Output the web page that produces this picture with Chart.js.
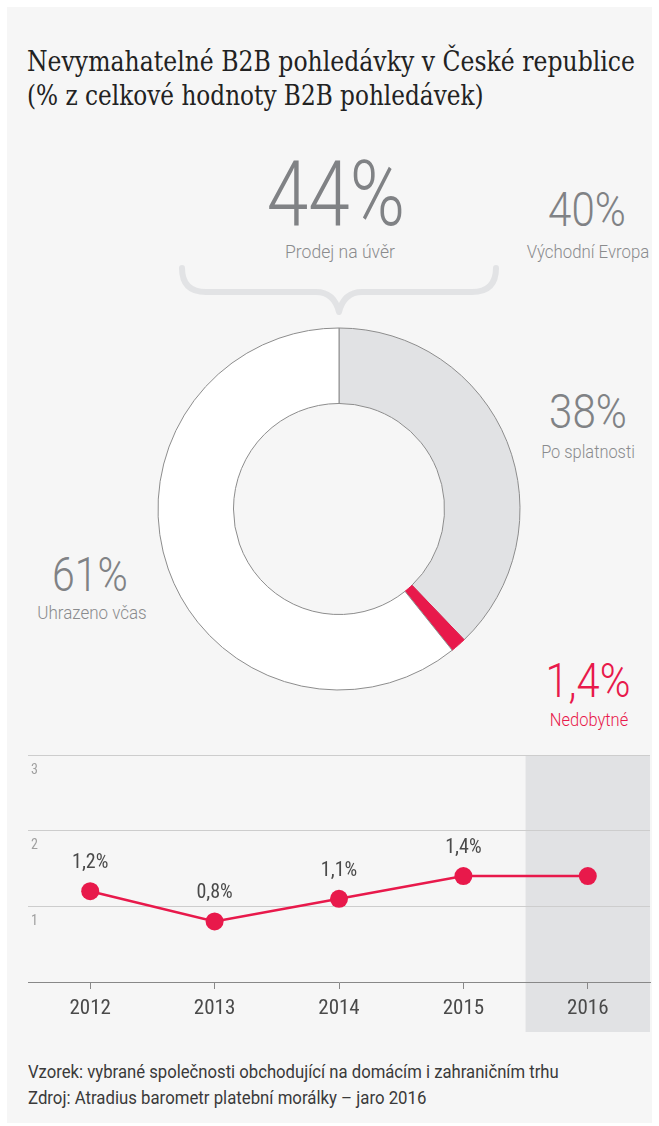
<!DOCTYPE html>
<html lang="cs">
<head>
<meta charset="utf-8">
<title>Nevymahatelné B2B pohledávky v České republice</title>
<script src="https://cdn.jsdelivr.net/npm/chart.js@4.4.1/dist/chart.umd.min.js"></script>
<style>
  html, body { margin: 0; padding: 0; background: #fff; }
  body { width: 659px; height: 1126px; position: relative; overflow: hidden; }
  #panel { position: absolute; left: 7px; top: 7px; width: 645px; height: 1116px; background: #f6f6f6; }
  .t { position: absolute; white-space: nowrap; line-height: 1; }
  .c { transform-origin: center; }
  .l { transform-origin: left; }
  .title { font-family: "DejaVu Serif", serif; font-size: 27px; color: #222; left: 27px; }
  .big { font-family: Roboto, sans-serif; font-weight: 300; color: #808285; }
  .sub { font-family: Roboto, sans-serif; font-weight: 300; font-size: 19px; color: #8a8b8d; }
  .red { color: #e8194b; }
  .note { font-family: Roboto, sans-serif; font-weight: 400; font-size: 18px; color: #3a3a3a; left: 28px; }
  canvas { position: absolute; }
  #brace { position: absolute; left: 0; top: 0; }
</style>
</head>
<body>
<div id="panel"></div>

<div class="t l title" style="top:48px" data-w="608">Nevymahatelné B2B pohledávky v České republice</div>
<div class="t l title" style="top:82px" data-w="457">(% z celkové hodnoty B2B pohledávek)</div>

<div class="t c big" style="left:336px; top:150px; font-size:90px" data-w="138">44%</div>
<div class="t c sub" style="left:340px; top:242px" data-w="110">Prodej na úvěr</div>

<div class="t c big" style="left:587px; top:186px; font-size:48px" data-w="78">40%</div>
<div class="t c sub" style="left:588px; top:242px" data-w="123">Východní Evropa</div>

<div class="t c big" style="left:588px; top:388px; font-size:48px" data-w="78">38%</div>
<div class="t c sub" style="left:588px; top:442px" data-w="94">Po splatnosti</div>

<div class="t c big" style="left:90px; top:551px; font-size:48px" data-w="76">61%</div>
<div class="t c sub" style="left:92px; top:603px" data-w="109">Uhrazeno včas</div>

<div class="t c big red" style="left:588px; top:657px; font-size:48px" data-w="85">1,4%</div>
<div class="t c sub red" style="left:589px; top:710px" data-w="78">Nedobytné</div>

<svg id="brace" width="659" height="330">
  <path d="M182 268 Q182 292 206 292 L316 292 Q334 292 339 312 Q344 292 362 292 L472 292 Q496 292 496 268"
        fill="none" stroke="#e2e3e5" stroke-width="6" stroke-linecap="round" stroke-linejoin="round"/>
</svg>

<canvas id="donut" width="400" height="400" style="left:139px; top:309px"></canvas>
<canvas id="line" width="659" height="300" style="left:0; top:740px"></canvas>

<div class="t l note" style="top:1063px" data-w="531">Vzorek: vybrané společnosti obchodující na domácím i zahraničním trhu</div>
<div class="t l note" style="top:1089px" data-w="398">Zdroj: Atradius barometr platební morálky – jaro 2016</div>

<script>
// doughnut: share of B2B receivables
const segLabels = ['Po splatnosti', 'Nedobytné', 'Uhrazeno včas'];
const segValues = [38, 1.4, 61];
const segColors = ['#e1e2e4', '#e8194b', '#ffffff'];
const segBorders = ['#8c8c8c', '#e8194b', '#8c8c8c'];

// line: uncollectable receivables by year
const years = ['2012', '2013', '2014', '2015', '2016'];
const shares = [1.2, 0.8, 1.1, 1.4, 1.4];
const shareLabels = ['1,2%', '0,8%', '1,1%', '1,4%', ''];
const highlightYear = '2016';

const RED = '#e8194b';
const NARROW = '"Liberation Sans Narrow", "Roboto Condensed", "DejaVu Sans Condensed", sans-serif';

// squeeze text to the widths of the condensed original
function fitText() {
    document.querySelectorAll('[data-w]').forEach(el => {
        const s = parseFloat(el.dataset.w) / el.offsetWidth;
        el.style.transform = el.classList.contains('c')
            ? 'translateX(-50%) scaleX(' + s + ')'
            : 'scaleX(' + s + ')';
    });
}
document.fonts.ready.then(fitText);
fitText();

new Chart(document.getElementById('donut'), {
    type: 'doughnut',
    data: {
        labels: segLabels,
        datasets: [{
            data: segValues,
            backgroundColor: segColors,
            borderColor: segBorders,
            borderWidth: 1
        }]
    },
    options: {
        responsive: false,
        animation: false,
        events: [],
        radius: 181,
        cutout: '58.3%',
        plugins: {
            legend: { display: false },
            tooltip: { enabled: false }
        }
    }
});

const highlight = {
    id: 'highlight',
    beforeDraw(chart) {
        const x = chart.scales.x;
        const i = years.indexOf(highlightYear);
        const left = (x.getPixelForValue(i - 1) + x.getPixelForValue(i)) / 2;
        const area = chart.chartArea;
        const ctx = chart.ctx;
        ctx.save();
        ctx.fillStyle = '#e1e2e4';
        ctx.fillRect(left, area.top, area.right - left, area.bottom - area.top + 50);
        ctx.restore();
    }
};

const pointLabels = {
    id: 'pointLabels',
    afterDatasetsDraw(chart) {
        const ctx = chart.ctx;
        const meta = chart.getDatasetMeta(0);
        ctx.save();
        ctx.font = '20px ' + NARROW;
        ctx.fillStyle = '#4a4a4a';
        ctx.textAlign = 'center';
        ctx.textBaseline = 'middle';
        meta.data.forEach((pt, i) => {
            if (shareLabels[i]) ctx.fillText(shareLabels[i], pt.x, pt.y - 28);
        });
        ctx.restore();
    }
};

new Chart(document.getElementById('line'), {
    type: 'line',
    data: {
        labels: years,
        datasets: [{
            data: shares,
            borderColor: RED,
            borderWidth: 2.5,
            pointRadius: 9,
            pointBackgroundColor: RED,
            pointBorderWidth: 0,
            tension: 0,
            clip: false
        }]
    },
    options: {
        responsive: false,
        animation: false,
        events: [],
        layout: { padding: { left: 28, right: 7, top: 15, bottom: 8 } },
        plugins: {
            legend: { display: false },
            tooltip: { enabled: false }
        },
        scales: {
            x: {
                offset: true,
                afterFit(s) { s.height = 50; },
                border: { color: '#888', width: 1 },
                grid: {
                    offset: false,
                    drawOnChartArea: false,
                    drawTicks: true,
                    tickLength: 7,
                    color: '#888'
                },
                ticks: {
                    color: '#4a4a4a',
                    padding: 7,
                    font: { family: NARROW, size: 21 }
                }
            },
            y: {
                min: 0,
                max: 3,
                afterFit(s) { s.width = 0; },
                border: { display: false },
                grid: {
                    drawTicks: false,
                    color: ctx => ctx.tick && ctx.tick.value === 0 ? 'rgba(0,0,0,0)' : '#cdcdcd'
                },
                ticks: {
                    stepSize: 1,
                    mirror: true,
                    padding: 3,
                    labelOffset: 15,
                    color: '#a0a0a0',
                    font: { family: NARROW, size: 14 },
                    callback: v => v === 0 ? '' : v
                }
            }
        }
    },
    plugins: [highlight, pointLabels]
});
</script>
</body>
</html>
